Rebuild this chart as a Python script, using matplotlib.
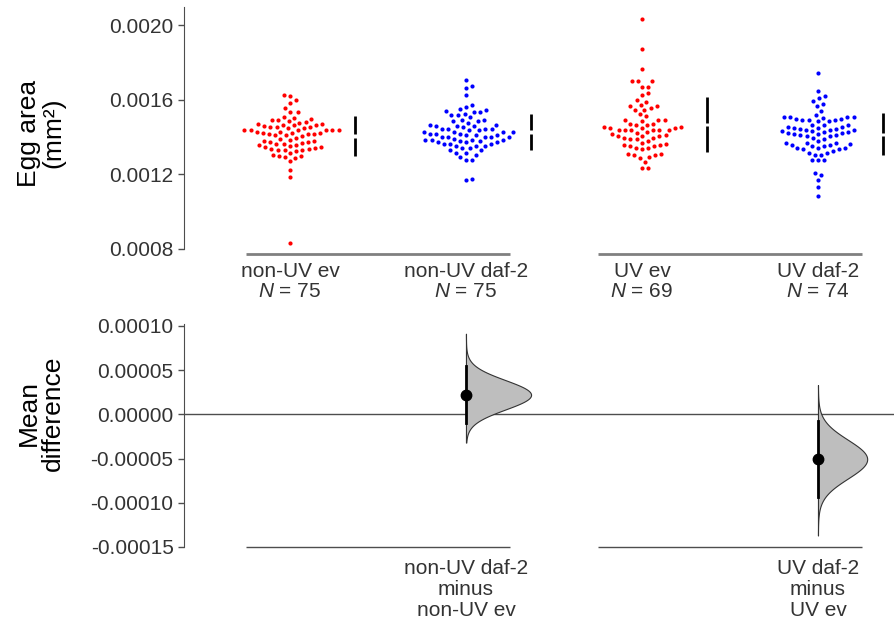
import numpy as np
import matplotlib
matplotlib.use("Agg")
import matplotlib.pyplot as plt

plt.rcParams['font.family'] = ['Liberation Sans', 'DejaVu Sans']
plt.rcParams['mathtext.fontset'] = 'custom'
plt.rcParams['mathtext.rm'] = 'Liberation Sans'
plt.rcParams['mathtext.it'] = 'Liberation Sans:italic'
plt.rcParams['axes.unicode_minus'] = False

# egg areas (mm2)
non_uv_ev = [0.001627, 0.001618, 0.001600, 0.001584, 0.001555, 0.001532, 0.001532,
             0.001509, 0.001504, 0.001496, 0.001493, 0.001491, 0.001486, 0.001480,
             0.001475, 0.001468, 0.001468, 0.001466, 0.001463, 0.001463, 0.001457,
             0.001454, 0.001454, 0.001454, 0.001448, 0.001448, 0.001439, 0.001439,
             0.001439, 0.001439, 0.001439, 0.001436, 0.001427, 0.001427, 0.001423,
             0.001423, 0.001423, 0.001418, 0.001418, 0.001418, 0.001413, 0.001409,
             0.001404, 0.001395, 0.001391, 0.001386, 0.001379, 0.001379, 0.001373,
             0.001373, 0.001370, 0.001364, 0.001364, 0.001359, 0.001355, 0.001350,
             0.001346, 0.001346, 0.001341, 0.001337, 0.001337, 0.001332, 0.001332,
             0.001329, 0.001323, 0.001314, 0.001305, 0.001298, 0.001298, 0.001293,
             0.001287, 0.001270, 0.001225, 0.001184, 0.000830]
non_uv_daf2 = [0.001703, 0.001673, 0.001662, 0.001623, 0.001569, 0.001560, 0.001548,
               0.001543, 0.001537, 0.001534, 0.001534, 0.001525, 0.001516, 0.001516,
               0.001507, 0.001492, 0.001492, 0.001484, 0.001484, 0.001476, 0.001466,
               0.001466, 0.001459, 0.001459, 0.001459, 0.001453, 0.001444, 0.001444,
               0.001444, 0.001444, 0.001439, 0.001439, 0.001426, 0.001426, 0.001426,
               0.001426, 0.001417, 0.001417, 0.001417, 0.001409, 0.001409, 0.001409,
               0.001400, 0.001400, 0.001400, 0.001400, 0.001400, 0.001391, 0.001385,
               0.001385, 0.001385, 0.001385, 0.001378, 0.001378, 0.001373, 0.001373,
               0.001373, 0.001364, 0.001364, 0.001364, 0.001353, 0.001350, 0.001350,
               0.001341, 0.001341, 0.001328, 0.001328, 0.001316, 0.001316, 0.001305,
               0.001292, 0.001278, 0.001278, 0.001176, 0.001167]
uv_ev = [0.002034, 0.001870, 0.001763, 0.001698, 0.001698, 0.001698, 0.001670,
         0.001670, 0.001634, 0.001625, 0.001600, 0.001586, 0.001573, 0.001564,
         0.001564, 0.001555, 0.001546, 0.001546, 0.001523, 0.001511, 0.001491,
         0.001491, 0.001491, 0.001484, 0.001471, 0.001471, 0.001462, 0.001462,
         0.001454, 0.001454, 0.001446, 0.001446, 0.001446, 0.001439, 0.001439,
         0.001439, 0.001439, 0.001436, 0.001436, 0.001427, 0.001421, 0.001414,
         0.001411, 0.001404, 0.001404, 0.001404, 0.001396, 0.001396, 0.001387,
         0.001387, 0.001379, 0.001368, 0.001364, 0.001357, 0.001357, 0.001352,
         0.001352, 0.001341, 0.001341, 0.001334, 0.001311, 0.001311, 0.001303,
         0.001303, 0.001293, 0.001286, 0.001266, 0.001236, 0.001236]
uv_daf2 = [0.001745, 0.001645, 0.001618, 0.001609, 0.001591, 0.001575, 0.001564,
           0.001537, 0.001516, 0.001507, 0.001507, 0.001507, 0.001507, 0.001502,
           0.001498, 0.001498, 0.001493, 0.001493, 0.001493, 0.001484, 0.001484,
           0.001466, 0.001466, 0.001466, 0.001455, 0.001455, 0.001450, 0.001450,
           0.001444, 0.001444, 0.001437, 0.001437, 0.001437, 0.001432, 0.001432,
           0.001427, 0.001427, 0.001421, 0.001421, 0.001416, 0.001416, 0.001409,
           0.001409, 0.001403, 0.001403, 0.001396, 0.001391, 0.001377, 0.001369,
           0.001369, 0.001369, 0.001364, 0.001359, 0.001359, 0.001352, 0.001352,
           0.001341, 0.001341, 0.001341, 0.001334, 0.001334, 0.001323, 0.001316,
           0.001316, 0.001305, 0.001305, 0.001275, 0.001275, 0.001275, 0.001209,
           0.001198, 0.001168, 0.001134, 0.001084]

groups = ['non-UV ev', 'non-UV daf-2', 'UV ev', 'UV daf-2']
group_data = [non_uv_ev, non_uv_daf2, uv_ev, uv_daf2]
group_colors = ['#FF0000', '#0000FF', '#FF0000', '#0000FF']

# mean differences with 95% CI and the extent of the bootstrap curves
delta_labels = ['non-UV daf-2\nminus\nnon-UV ev', 'UV daf-2\nminus\nUV ev']
delta_pos = [1, 3]
delta_mean = [0.000022, -0.0000507]
delta_ci_lo = [-0.000010, -0.000094]
delta_ci_hi = [0.000055, -0.000008]
curve_lo = [-0.000032, -0.000137]
curve_hi = [0.000091, 0.000033]


def swarm(y_px, d):
    # place points one by one, as close to the centre as possible
    xs = np.zeros(len(y_px))
    px_list, py_list = [], []
    for i in np.argsort(y_px):
        y = y_px[i]
        cands = [0.0]
        for px, py in zip(px_list, py_list):
            dy = abs(py - y)
            if dy < d:
                dx = np.sqrt(d * d - dy * dy)
                cands += [px + dx, px - dx]
        cands.sort(key=abs)
        for c in cands:
            if all((c - px) ** 2 + (y - py) ** 2 >= d * d - 1e-6
                   for px, py in zip(px_list, py_list)):
                break
        xs[i] = c
        px_list.append(c)
        py_list.append(y)
    return xs


fig = plt.figure(figsize=(8.94, 6.25), dpi=100)
W, H = 894, 625
ax1 = fig.add_axes([184 / W, 1 - 254 / H, (W - 184) / W, 247 / H])
ax2 = fig.add_axes([184 / W, 1 - 547 / H, (W - 184) / W, 223 / H])

xlim = (-0.602, 3.432)
tick_col = '#333333'

# ---- top panel: raw data ----
ylim1 = (0.000773, 0.0020965)
ax1.set_xlim(xlim)
ax1.set_ylim(ylim1)
x_scale = (W - 184) / (xlim[1] - xlim[0])
y_scale = 247 / (ylim1[1] - ylim1[0])

for i, (vals, col) in enumerate(zip(group_data, group_colors)):
    vals = np.array(vals)
    off = swarm(vals * y_scale, 6.3)
    ax1.scatter(i + off / x_scale, vals, s=9, color=col, linewidths=0, zorder=3)
    m, sd = vals.mean(), vals.std(ddof=1)
    gap = 0.0000085
    xs = i + 0.37
    ax1.plot([xs, xs], [m - sd, m - gap], color='black', lw=2, solid_capstyle='butt')
    ax1.plot([xs, xs], [m + gap, m + sd], color='black', lw=2, solid_capstyle='butt')

for a, b in [(0, 1), (2, 3)]:
    ax1.plot([a - 0.25, b + 0.25], [ylim1[0]] * 2, color='#808080', lw=2,
             clip_on=False, solid_capstyle='butt')

ax1.set_yticks([0.0008, 0.0012, 0.0016, 0.0020])
ax1.set_yticklabels(['0.0008', '0.0012', '0.0016', '0.0020'])
ax1.set_xticks(range(4))
ax1.set_xticklabels([f"{g}\n$\\mathit{{N}}$ = {len(v)}" for g, v in zip(groups, group_data)],
                    linespacing=1.05)
ax1.spines['left'].set_bounds(0.0008, ylim1[1])

# ---- bottom panel: mean differences ----
ylim2 = (-0.00015, 0.000102)
ax2.set_xlim(xlim)
ax2.set_ylim(ylim2)
ax2.axhline(0, color='#4D4D4D', lw=1, zorder=1)

sds = [(hi - lo) / 3.92 for lo, hi in zip(delta_ci_lo, delta_ci_hi)]
area = 0.37 * min(sds) * np.sqrt(2 * np.pi)
for x0, m, lo, hi, clo, chi, sd in zip(delta_pos, delta_mean, delta_ci_lo, delta_ci_hi,
                                        curve_lo, curve_hi, sds):
    yy = np.linspace(clo, chi, 300)
    w = area * np.exp(-0.5 * ((yy - m) / sd) ** 2) / (sd * np.sqrt(2 * np.pi))
    ax2.fill_betweenx(yy, x0, x0 + w, facecolor='#BEBEBE', edgecolor='#333333',
                      lw=0.8, zorder=2)
    ax2.plot([x0, x0], [lo, hi], color='black', lw=2, zorder=3)
    ax2.plot(x0, m, 'o', color='black', ms=7.5, zorder=4)

for a, b in [(0, 1), (2, 3)]:
    ax2.plot([a - 0.25, b + 0.25], [ylim2[0]] * 2, color='#4D4D4D', lw=1,
             clip_on=False, solid_capstyle='butt')

ticks2 = [-0.00015, -0.0001, -0.00005, 0.0, 0.00005, 0.0001]
ax2.set_yticks(ticks2)
ax2.set_yticklabels([f"{t:.5f}" for t in ticks2])
ax2.set_xticks(delta_pos)
ax2.set_xticklabels(delta_labels, linespacing=1.12)

for ax in (ax1, ax2):
    for s in ('top', 'right', 'bottom'):
        ax.spines[s].set_visible(False)
    ax.spines['left'].set_color('#4D4D4D')
    ax.tick_params(axis='y', colors='#4D4D4D', labelcolor=tick_col, labelsize=15,
                   length=4, width=1)
    ax.tick_params(axis='x', length=0, labelsize=15, labelcolor=tick_col, pad=6)
ax2.tick_params(axis='x', pad=9)

fig.text(41 / W, 1 - 133 / H, 'Egg area\n(mm\u00b2)', rotation=90, ha='center',
         va='center', fontsize=19, multialignment='center', linespacing=1.0)
fig.text(41 / W, 1 - 413 / H, 'Mean\ndifference', rotation=90, ha='center',
         va='center', fontsize=19, multialignment='center', linespacing=1.0)

fig.savefig('out.png', dpi=100)
